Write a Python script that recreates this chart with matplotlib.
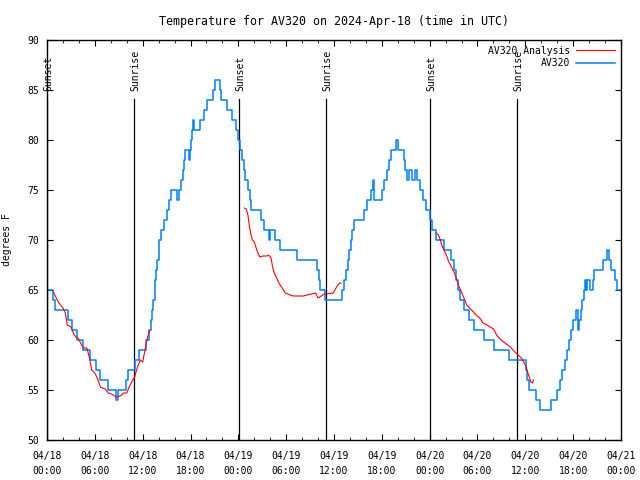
import matplotlib
matplotlib.use("Agg")
import matplotlib.pyplot as plt
import numpy as np

plt.rcParams['font.family'] = ['DejaVu Sans Mono']
plt.rcParams['font.size'] = 7

# hours since 2024-04-18 00:00 UTC
obs_hours = [0.0, 0.8, 1.0, 2.65, 3.15, 3.75, 4.5, 5.35, 6.15, 6.6, 7.65, 8.7, 8.85, 9.9,
             10.2, 11.1, 11.5, 12.45, 12.8, 13.0, 13.2, 13.35, 13.5, 13.6, 13.7, 13.85,
             14.0, 14.1, 14.3, 14.7, 15.0, 15.25, 15.5, 16.3, 16.5, 16.8, 17.0, 17.15,
             17.35, 17.8, 17.95, 18.05, 18.2, 18.35, 18.5, 19.15, 19.75, 20.05, 20.85,
             21.05, 21.7, 21.85, 22.6, 23.2, 23.75, 24.0, 24.15, 24.5, 24.65, 24.85,
             25.2, 25.5, 25.65, 26.85, 27.25, 27.85, 27.95, 28.65, 29.2, 31.3, 33.9,
             34.1, 34.25, 34.9, 36.95, 37.2, 37.5, 37.7, 37.9, 38.1, 38.3, 38.55, 39.75,
             40.2, 40.6, 40.85, 41.0, 42.0, 42.3, 42.7, 42.95, 43.2, 43.8, 44.05, 44.75,
             44.9, 45.1, 45.35, 45.8, 46.15, 46.45, 46.85, 47.2, 47.6, 48.0, 48.25, 48.75,
             49.75, 50.7, 51.0, 51.3, 51.55, 51.8, 52.3, 52.95, 53.55, 54.8, 56.05, 57.95,
             60.05, 60.15, 60.4, 61.3, 61.9, 63.2, 64.0, 64.3, 64.55, 65.0, 65.25, 65.5,
             65.7, 65.95, 66.3, 66.6, 66.75, 67.0, 67.15, 67.3, 67.45, 67.55, 67.7, 68.15,
             68.45, 68.65, 69.8, 70.3, 70.5, 70.7, 71.2, 71.5, 72.0]
obs_temp = [65, 64, 63, 62, 61, 60, 59, 58, 57, 56, 55, 54, 55, 56,
            57, 58, 59, 60, 61, 62, 63, 64, 65, 66, 67, 68,
            69, 70, 71, 72, 73, 74, 75, 74, 75, 76, 77, 78,
            79, 78, 79, 80, 81, 82, 81, 82, 83, 84, 85,
            86, 85, 84, 83, 82, 81, 80, 79, 78, 77, 76,
            75, 74, 73, 72, 71, 70, 71, 70, 69, 68, 67,
            66, 65, 64, 65, 66, 67, 68, 69, 70, 71, 72, 73,
            74, 75, 76, 74, 75, 76, 77, 78, 79, 80, 79, 78,
            77, 76, 77, 76, 77, 76, 75, 74, 73, 72, 71, 70,
            69, 68, 67, 66, 65, 64, 63, 62, 61, 60, 59, 58,
            57, 56, 55, 54, 53, 54, 55, 56, 57, 58, 59, 60,
            61, 62, 63, 61, 62, 63, 64, 65, 66, 65, 66, 65,
            66, 67, 68, 69, 68, 67, 66, 65, 65]

ana1_hours = [0.8, 1.4, 2.0, 2.3, 2.55, 3.0, 3.3, 3.6, 3.9, 4.35, 4.6, 5.0, 5.3, 5.6, 6.0,
              6.3, 6.7, 7.3, 7.7, 8.1, 8.7, 9.2, 9.6, 10.0, 10.3, 10.75, 11.0, 11.3, 11.7,
              12.0, 12.3, 12.6, 12.8, 12.95]
ana1_temp = [64.8, 63.8, 63.2, 62.7, 61.5, 61.3, 60.7, 60.3, 60.2, 59.5, 59.2, 59.2, 58.3,
             57.0, 56.7, 56.2, 55.3, 55.1, 54.7, 54.6, 54.3, 54.4, 54.7, 54.7, 55.3, 56.0,
             56.3, 57.2, 58.0, 57.8, 59.0, 60.2, 60.8, 61.0]
ana2_hours = [24.75, 25.0, 25.2, 25.4, 25.6, 25.75, 26.0, 26.2, 26.4, 26.7, 27.1, 27.6, 27.8,
              28.1, 28.3, 28.5, 28.8, 29.1, 29.5, 29.9, 30.5, 30.9, 32.2, 32.6, 33.2, 33.7,
              34.0, 34.4, 34.8, 35.9, 36.1, 36.4, 36.7, 36.9]
ana2_temp = [73.2, 73.1, 72.5, 71.3, 70.5, 70.0, 69.8, 69.3, 68.8, 68.3, 68.4, 68.4, 68.5,
             68.2, 67.3, 66.7, 66.2, 65.7, 65.2, 64.7, 64.5, 64.4, 64.4, 64.5, 64.6, 64.7,
             64.2, 64.4, 64.6, 64.7, 65.0, 65.4, 65.7, 65.7]
ana3_hours = [48.8, 49.1, 49.3, 49.5, 49.8, 50.1, 50.4, 50.8, 51.1, 51.4, 51.7, 52.0, 52.3,
              52.65, 53.0, 53.5, 53.9, 54.2, 54.7, 55.2, 56.0, 56.4, 56.8, 57.45, 58.1,
              58.7, 59.1, 59.5, 59.8, 60.1, 60.4, 60.7, 60.9, 61.0]
ana3_temp = [70.7, 70.5, 70.1, 69.5, 69.0, 68.5, 67.8, 67.2, 66.7, 66.0, 65.3, 64.8, 64.2,
             63.5, 63.2, 62.8, 62.4, 62.3, 61.7, 61.5, 61.1, 60.5, 60.1, 59.7, 59.3, 58.8,
             58.5, 58.2, 57.8, 57.3, 56.5, 55.8, 55.7, 56.0]

sun_hours = [0.05, 10.9, 24.08, 35.0, 48.04, 58.96]
sun_labels = ["Sunset", "Sunrise", "Sunset", "Sunrise", "Sunset", "Sunrise"]

tick_hours = list(range(0, 73, 6))
tick_labels = ["04/18\n00:00", "04/18\n06:00", "04/18\n12:00", "04/18\n18:00",
               "04/19\n00:00", "04/19\n06:00", "04/19\n12:00", "04/19\n18:00",
               "04/20\n00:00", "04/20\n06:00", "04/20\n12:00", "04/20\n18:00",
               "04/21\n00:00"]

fig = plt.figure(figsize=(6.4, 4.8), dpi=100)
ax = fig.add_axes([47 / 640, 40 / 480, 574 / 640, 400 / 480])

# sunrise / sunset markers
for h, lab in zip(sun_hours, sun_labels):
    ax.plot([h, h], [0, 0.8525], color="black", lw=0.9,
            transform=ax.get_xaxis_transform(), zorder=1)
    ax.text(h + 0.15, 0.8725, lab, rotation=90, ha="center", va="bottom",
            transform=ax.get_xaxis_transform())

red = "#ff0000"
ax.plot(ana1_hours, ana1_temp, color=red, lw=0.8, label="AV320 Analysis", zorder=3)
ax.plot(ana2_hours, ana2_temp, color=red, lw=0.8, zorder=3)
ax.plot(ana3_hours, ana3_temp, color=red, lw=0.8, zorder=3)
ax.plot(obs_hours, obs_temp, color="#0080ff", lw=1.1, drawstyle="steps-post",
        label="AV320", zorder=2)

ax.set_xlim(0, 72)
ax.set_ylim(50, 90)
ax.set_xticks(tick_hours)
ax.set_xticklabels(tick_labels, linespacing=1.6)
ax.set_xticks(np.arange(0, 73, 2), minor=True)
ax.set_yticks(range(50, 91, 5))
ax.tick_params(which="both", direction="in", top=True, right=True)
ax.tick_params(axis="x", which="major", pad=8)
ax.tick_params(axis="y", which="major", pad=6)
ax.tick_params(which="major", length=4)
ax.tick_params(which="minor", length=2.5)
for s in ax.spines.values():
    s.set_linewidth(1.0)

ax.set_ylabel("degrees F")
ax.yaxis.set_label_coords(-0.061, 0.5)
ax.set_title("Temperature for AV320 on 2024-Apr-18 (time in UTC)", pad=11)

ax.legend(loc="upper right", frameon=False, markerfirst=False, handlelength=4,
          borderaxespad=0.2, labelspacing=0.25, handletextpad=0.6)

fig.savefig("out.png", dpi=100)
